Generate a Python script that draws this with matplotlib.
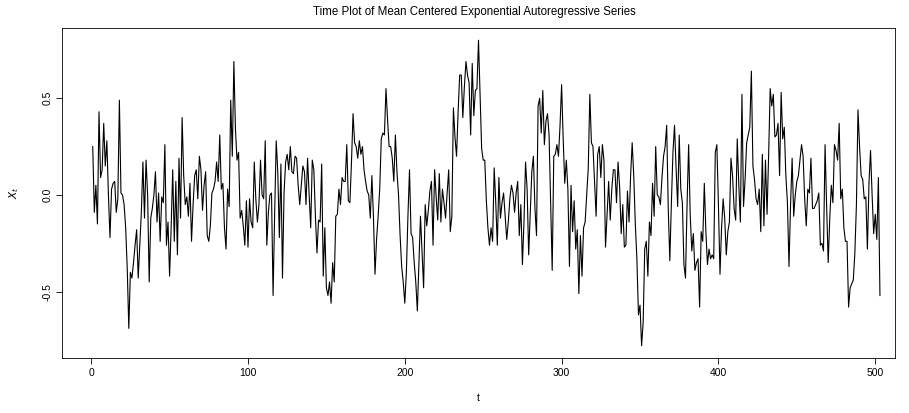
import numpy as np
import matplotlib
matplotlib.use("Agg")
import matplotlib.pyplot as plt

plt.rcParams["font.family"] = ["Liberation Sans", "DejaVu Sans"]

# values, in blocks of about 42 points
seg1 = [0.25, -0.09, 0.05, -0.15, 0.43, 0.09, 0.13, 0.37, 0.15, 0.28, 0.00, -0.22, 0.03, 0.06, 0.07, -0.09,
        -0.02, 0.49, 0.01, 0.00, -0.05, -0.17, -0.38, -0.69, -0.40, -0.43, -0.35, -0.26, -0.18, -0.43, -0.26,
        -0.09, 0.17, -0.12, 0.18, 0.00, -0.45, -0.12]
seg2 = [-0.07, 0.00, 0.12, -0.14, 0.01, -0.24, -0.01, -0.04, 0.26, -0.26, -0.14, -0.42, -0.17, 0.13, -0.24, 0.07,
        -0.31, 0.19, -0.12, 0.40, 0.10, -0.05, -0.01, -0.11, 0.06, -0.24, -0.05, 0.10, 0.13, -0.02, 0.20, 0.13,
        -0.08, 0.05, 0.12, -0.21, -0.24, -0.16, 0.01, 0.03, 0.07, 0.17]
seg3 = [0.07, 0.31, 0.03, 0.06, -0.17, -0.28, 0.03, -0.06, 0.49, 0.20, 0.69, 0.34, 0.18, 0.22, -0.12, -0.08,
        -0.16, -0.26, -0.03, -0.27, -0.02, -0.14, -0.17, 0.17, -0.02, -0.14, -0.05, 0.18, 0.00, -0.02, 0.28,
        -0.26, -0.09, 0.00, 0.01, -0.52, -0.10, 0.28, 0.12, -0.22, 0.16, -0.43, 0.01]
seg4 = [0.17, 0.21, 0.13, 0.25, 0.12, 0.11, 0.20, 0.19, 0.05, -0.05, 0.05, 0.15, 0.12, -0.05, 0.19, 0.00,
        -0.17, 0.18, 0.13, -0.11, -0.30, -0.13, -0.14, 0.16, -0.42, -0.17, -0.48, -0.52, -0.45, -0.56, -0.35,
        -0.45, -0.11, -0.10, 0.03, -0.05, 0.09, 0.07, 0.07, 0.26, -0.03, -0.04]
seg5 = [0.17, 0.42, 0.27, 0.25, 0.19, 0.28, 0.21, 0.25, 0.13, 0.07, 0.02, 0.00, -0.12, 0.10, -0.11, -0.41,
        -0.23, -0.11, 0.03, 0.29, 0.32, 0.31, 0.55, 0.39, 0.25, 0.25, 0.19, 0.07, 0.31, 0.12, 0.00, -0.21,
        -0.37, -0.45, -0.56, -0.40, -0.11, 0.13, -0.20, -0.22, -0.35, -0.45]
seg6 = [-0.60, -0.35, -0.11, -0.30, -0.48, -0.05, -0.16, -0.08, 0.02, 0.07, -0.26, 0.13, -0.01, -0.13, 0.11,
        -0.14, 0.03, -0.04, -0.12, 0.01, 0.13, -0.19, -0.11, 0.45, 0.30, 0.20, 0.43, 0.62, 0.62, 0.40, 0.56,
        0.69, 0.62, 0.58, 0.31, 0.68, 0.41, 0.54, 0.55, 0.80, 0.51, 0.24]
seg7 = [0.18, 0.18, -0.03, -0.17, -0.26, -0.17, -0.24, 0.14, -0.04, -0.26, 0.09, -0.12, -0.04, 0.01, -0.11,
        -0.23, -0.14, -0.02, 0.05, 0.01, -0.09, 0.01, 0.07, -0.21, -0.05, -0.36, -0.14, 0.17, 0.03, -0.31,
        -0.10, 0.12, 0.20, -0.07, -0.21, 0.46, 0.50, 0.32, 0.54, 0.26, 0.38, 0.42]
seg8 = [0.31, -0.05, -0.39, 0.20, 0.21, 0.26, 0.20, 0.36, 0.57, 0.29, 0.06, 0.18, 0.03, -0.37, 0.05, -0.19,
        -0.03, -0.28, -0.18, -0.51, -0.21, -0.42, -0.17, -0.14, 0.00, 0.14, 0.52, 0.27, 0.25, 0.07, -0.11,
        0.21, 0.25, 0.09, 0.26, 0.18, -0.27, -0.10, 0.07, -0.13, 0.03, 0.13]
seg9 = [0.13, -0.04, 0.17, 0.04, -0.20, -0.05, -0.27, -0.26, 0.02, -0.14, 0.10, 0.27, 0.10, -0.15, -0.33,
        -0.62, -0.57, -0.78, -0.66, -0.28, -0.24, -0.42, -0.14, -0.21, 0.06, -0.11, 0.25, 0.00, -0.01, -0.05,
        0.09, 0.20, 0.25, 0.36, -0.07, -0.34, -0.04, 0.22, 0.36, 0.14, -0.06, 0.31, 0.03]
seg10 = [-0.04, -0.36, -0.43, -0.05, 0.26, -0.10, -0.29, -0.20, -0.39, -0.35, -0.33, -0.58, -0.19, -0.24,
         0.06, -0.19, -0.36, -0.28, -0.33, -0.31, -0.33, 0.22, 0.26, -0.05, -0.41, -0.17, -0.02, -0.12, -0.31,
         -0.19, -0.14, 0.19, 0.10, -0.07, -0.13, 0.29, 0.05, -0.14, 0.52, -0.06, 0.08, 0.27]
seg11 = [0.31, 0.35, 0.64, 0.15, 0.08, -0.02, -0.05, 0.03, -0.19, 0.21, -0.16, 0.18, -0.10, 0.20, 0.55, 0.46,
         0.52, 0.30, 0.31, 0.37, 0.10, 0.53, 0.29, 0.35, 0.10, -0.04, -0.37, -0.05, 0.19, -0.11, 0.00, 0.07,
         0.10, 0.18, 0.26, 0.20, -0.02, -0.16, 0.03, 0.01, 0.19, -0.07]
seg12 = [-0.07, -0.05, -0.03, 0.01, -0.26, -0.25, -0.29, 0.26, -0.06, -0.35, -0.12, 0.05, -0.04, 0.26, 0.23,
         0.18, 0.37, -0.02, 0.03, -0.17, -0.24, -0.24, -0.58, -0.48, -0.46, -0.44, -0.30, -0.05, 0.44, 0.25,
         0.10, 0.08, -0.02, -0.01, -0.28, 0.06, 0.23, 0.00, -0.20, -0.10, -0.23, 0.09, -0.52]

x = np.concatenate([seg1, seg2, seg3, seg4, seg5, seg6, seg7, seg8, seg9, seg10, seg11, seg12])
t = np.arange(1, len(x) + 1)

xticks = [0, 100, 200, 300, 400, 500]
yticks = [-0.5, 0.0, 0.5]

fig = plt.figure(figsize=(9.09, 4.13), dpi=100)
ax = fig.add_axes([62 / 909, 55 / 413, 833 / 909, 330 / 413])
ax.plot(t, x, color="black", lw=0.8)

ax.set_xlim(-18.6, 512.6)
yr = x.max() - x.min()
ax.set_ylim(x.min() - 0.04 * yr, x.max() + 0.04 * yr)

ax.set_xticks(xticks)
ax.set_yticks(yticks)
ax.set_yticklabels(["-0.5", "0.0", "0.5"], rotation=90, va="center")
ax.tick_params(direction="out", length=4, width=0.6, labelsize=7.5, pad=3)
for s in ax.spines.values():
    s.set_linewidth(0.6)

ax.set_xlabel("t", fontsize=7.5, labelpad=11)
ax.set_ylabel("$X_t$", fontsize=7.5, labelpad=15)
ax.set_title("Time Plot of Mean Centered Exponential Autoregressive Series", fontsize=8.3, pad=9, x=0.495)

fig.savefig("out.png", dpi=100)
